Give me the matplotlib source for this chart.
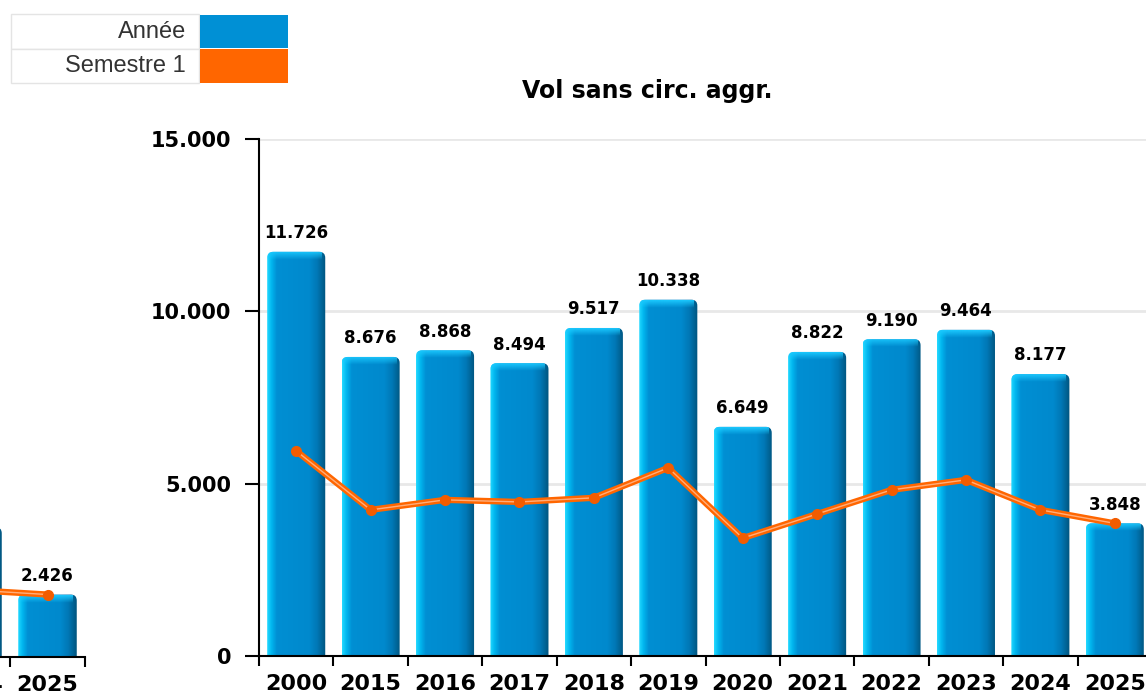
import numpy as np
import matplotlib
matplotlib.use('Agg')
import matplotlib.pyplot as plt
from matplotlib.colors import LinearSegmentedColormap, to_rgb
from matplotlib.patches import Rectangle, FancyBboxPatch

# =========================
# DONNÉES
# =========================
annees = ['2000', '2015', '2016', '2017', '2018', '2019',
          '2020', '2021', '2022', '2023', '2024', '2025']
vol_annee = [11726, 8676, 8868, 8494, 9517, 10338,
             6649, 8822, 9190, 9464, 8177, 3848]
vol_sem1 = [5950, 4240, 4530, 4470, 4590, 5460,
            3420, 4120, 4820, 5110, 4240, 3848]

# graphique voisin (seule la fin est visible)
gauche_annees = ['2024', '2025']
gauche_annee = [5040, 2426]
gauche_sem1 = [2600, 2426]

legende = ['Année', 'Semestre 1']

W, H = 1146, 693
BLEU = '#0090d5'
ORANGE = '#ff6600'

plt.rcParams['font.family'] = ['DejaVu Sans']

# dégradé horizontal des barres (effet 3D)
grad = LinearSegmentedColormap.from_list('barre', [
    (0.0, '#22d8ff'), (0.07, '#00b6ef'), (0.16, '#008fd3'),
    (0.72, '#0089cd'), (0.86, '#0078b6'), (1.0, '#00557f')])
img = grad(np.linspace(0, 1, 64))[None, :, :]

# reflet clair sur le dessus des barres
haut = np.zeros((16, 1, 4))
haut[:, 0, :3] = to_rgb('#1ccaff')
haut[:, 0, 3] = np.linspace(0.95, 0.0, 16)


def fmt(v):
    return f"{v:,}".replace(',', '.')


def px(x0, y0, x1, y1):
    # rectangle en pixels -> [left, bottom, width, height] en fraction
    return [x0 / W, 1 - y1 / H, (x1 - x0) / W, (y1 - y0) / H]


def dessiner(ax, cats, barres, ligne, ymax, pas, h_px, u_px):
    x = np.arange(len(cats))
    larg = 0.78
    dy = ymax / h_px      # unités y par pixel
    dx = 1.0 / u_px       # unités x par pixel
    r = 6 * dx
    for xi, v in zip(x, barres):
        forme = FancyBboxPatch((xi - larg / 2, -10 * dy), larg, v + 10 * dy,
                               boxstyle=f"round,pad=0,rounding_size={r}",
                               mutation_aspect=dy / dx,
                               transform=ax.transData, facecolor='none',
                               edgecolor='none')
        ax.add_patch(forme)
        im = ax.imshow(img, extent=[xi - larg / 2, xi + larg / 2, 0, v],
                       aspect='auto', zorder=2, interpolation='bilinear')
        im.set_clip_path(forme)
        im2 = ax.imshow(haut, extent=[xi - larg / 2, xi + larg / 2 - 4 * dx,
                                      v - 8 * dy, v],
                        aspect='auto', zorder=3, interpolation='bilinear')
        im2.set_clip_path(forme)
        ax.annotate(fmt(v), (xi, v), xytext=(0, 7), textcoords='offset points',
                    ha='center', va='bottom', fontsize=12, fontweight='bold',
                    zorder=8)
    ax.plot(x, ligne, color=ORANGE, lw=4.5, solid_joinstyle='round', zorder=5)
    ax.plot(x, ligne, color='#ffc09a', lw=1.0, alpha=0.8, zorder=6)
    ax.plot(x, ligne, 'o', ms=7, color='#f25c00', zorder=7)

    ax.set_xlim(-0.5, len(cats) - 0.5)
    ax.set_ylim(0, ymax)
    ax.set_yticks(np.arange(0, ymax + 1, pas))
    ax.yaxis.grid(True, color='#e8e8e8', lw=2)
    ax.set_axisbelow(True)
    for s in ['top', 'right']:
        ax.spines[s].set_visible(False)
    ax.spines['bottom'].set_linewidth(1.5)
    ax.spines['left'].set_linewidth(1.5)
    ax.set_xticks(x)
    ax.set_xticklabels(cats, fontsize=16, fontweight='bold')
    ax.set_xticks(np.arange(-0.5, len(cats)), minor=True)
    ax.tick_params(axis='x', which='major', length=0, pad=13)
    ax.tick_params(axis='x', which='minor', length=7, width=1.5)
    ax.tick_params(axis='y', length=10, width=1.5, pad=10)
    ax.set_yticklabels([fmt(int(t)) for t in ax.get_yticks()],
                       fontsize=15, fontweight='bold')


fig = plt.figure(figsize=(W / 100, H / 100), dpi=100)

# graphique principal
ax = fig.add_axes(px(259, 139, 1152, 656))
dessiner(ax, annees, vol_annee, vol_sem1, 15000, 5000, 517, 74.4)

# graphique voisin, coupé par le bord gauche
ax2 = fig.add_axes(px(-65, 142, 85, 657))
dessiner(ax2, gauche_annees, gauche_annee, gauche_sem1, 20000, 5000, 515, 75)
ax2.yaxis.set_visible(False)
ax2.spines['left'].set_visible(False)

fig.text(647 / W, 1 - 91 / H, 'Vol sans circ. aggr.', ha='center',
         va='center', fontsize=17, fontweight='bold')

# légende en haut à gauche
lg = fig.add_axes([0, 0, 1, 1], zorder=10)
lg.set_xlim(0, W)
lg.set_ylim(H, 0)
lg.axis('off')
for i, (nom, coul) in enumerate(zip(legende, [BLEU, ORANGE])):
    y0 = 14 + 34.5 * i
    lg.add_patch(Rectangle((11, y0), 188, 34.5, facecolor='white',
                           edgecolor='#e4e4e4', lw=1))
    lg.add_patch(Rectangle((200, y0 + 0.5), 88, 33.5, facecolor=coul,
                           edgecolor='none'))
    lg.text(186, y0 + 17.5, nom, ha='right', va='center', fontsize=17,
            color='#333333', family=['Liberation Sans', 'DejaVu Sans'])

fig.savefig('out.png', dpi=100)
